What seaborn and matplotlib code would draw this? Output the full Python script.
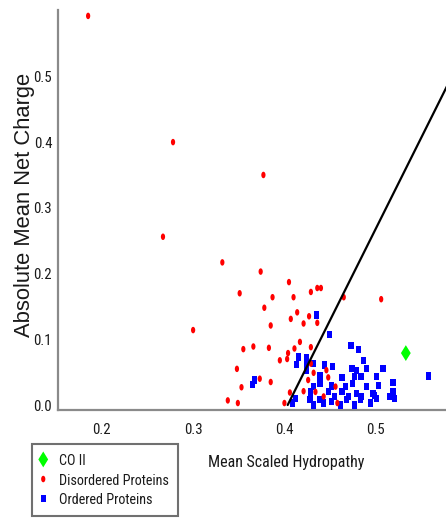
import numpy as np
import pandas as pd
import matplotlib
matplotlib.use("Agg")
import matplotlib.pyplot as plt
import seaborn as sns
from matplotlib import font_manager as fm
from matplotlib.font_manager import FontProperties
from matplotlib.markers import MarkerStyle
from matplotlib.ticker import MultipleLocator

# ---------------- data ----------------
disordered_x = [0.185, 0.278, 0.267, 0.300, 0.377, 0.332, 0.374, 0.405, 0.351, 0.387,
                0.410, 0.429, 0.436, 0.440, 0.465, 0.506, 0.378, 0.414, 0.407, 0.427,
                0.421, 0.436, 0.385, 0.417, 0.366, 0.355, 0.383, 0.411, 0.429, 0.404,
                0.403, 0.395, 0.348, 0.373, 0.385, 0.353, 0.338, 0.349, 0.400, 0.406,
                0.421, 0.434, 0.429, 0.432, 0.426, 0.446, 0.448, 0.456, 0.443, 0.458]
disordered_y = [0.592, 0.400, 0.256, 0.114, 0.350, 0.217, 0.203, 0.187, 0.170, 0.164,
                0.164, 0.172, 0.178, 0.178, 0.164, 0.161, 0.148, 0.141, 0.131, 0.135,
                0.124, 0.125, 0.121, 0.096, 0.089, 0.085, 0.087, 0.086, 0.088, 0.079,
                0.070, 0.068, 0.055, 0.040, 0.035, 0.027, 0.007, 0.003, 0.003, 0.019,
                0.021, 0.020, 0.063, 0.049, 0.038, 0.053, 0.042, 0.028, 0.013, 0.003]

ordered_x = [0.435, 0.449, 0.473, 0.481, 0.415, 0.424, 0.413, 0.424, 0.432, 0.444,
             0.453, 0.474, 0.479, 0.487, 0.490, 0.508, 0.558, 0.367, 0.365, 0.424,
             0.439, 0.463, 0.477, 0.484, 0.501, 0.439, 0.432, 0.452, 0.467, 0.475,
             0.490, 0.503, 0.519, 0.519, 0.429, 0.448, 0.463, 0.479, 0.497, 0.515,
             0.429, 0.455, 0.470, 0.484, 0.499, 0.428, 0.439, 0.452, 0.468, 0.483,
             0.501, 0.521, 0.432, 0.443, 0.461, 0.477, 0.494, 0.409, 0.412]
ordered_y = [0.137, 0.107, 0.091, 0.084, 0.073, 0.072, 0.062, 0.063, 0.063, 0.061,
             0.058, 0.056, 0.053, 0.068, 0.056, 0.055, 0.044, 0.038, 0.031, 0.053,
             0.044, 0.042, 0.043, 0.043, 0.043, 0.033, 0.028, 0.029, 0.028, 0.033,
             0.028, 0.030, 0.034, 0.020, 0.020, 0.020, 0.020, 0.018, 0.018, 0.013,
             0.013, 0.013, 0.013, 0.013, 0.015, 0.008, 0.008, 0.005, 0.008, 0.008,
             0.010, 0.010, 0.000, 0.003, 0.000, 0.000, 0.003, 0.003, 0.010]

coii_x = [0.533]
coii_y = [0.079]

# boundary line: charge = slope * hydropathy + intercept
boundary_slope = 2.78
boundary_intercept = -1.122

x_ticks = [0.2, 0.3, 0.4, 0.5]
x_ticklabels = ["0.2", "0.3", "0.4", "0.5"]
y_ticks = [0.0, 0.1, 0.2, 0.3, 0.4, 0.5]
y_ticklabels = ["0.0", "0.1", "0.2", "0.3", "0.4", "0.5"]

x_title = "Mean Scaled Hydropathy"
y_title = "Absolute Mean Net Charge"
legend_labels = ["CO II", "Disordered Proteins", "Ordered Proteins"]

# ---------------- style ----------------
sns.set_style("white")
names = {f.name for f in fm.fontManager.ttflist}


def pick_narrow():
    pref = ["Liberation Sans Narrow", "Arial Narrow", "Roboto Condensed",
            "Open Sans Condensed", "Noto Sans Condensed", "DejaVu Sans Condensed"]
    for p in pref:
        if p in names:
            return FontProperties(family=p)
    for f in fm.fontManager.ttflist:
        st = f.stretch
        cond = st in ("condensed", "semi-condensed", "extra-condensed") or \
            (isinstance(st, int) and st < 500)
        if cond and f.style == "normal" and f.weight in (400, "normal", "regular", "book"):
            return FontProperties(family=f.name, stretch=st)
    return FontProperties(family="Liberation Sans")


FP_NARROW = pick_narrow()
FP_REG = FontProperties(family="Liberation Sans")
plt.rcParams["font.family"] = [FP_NARROW.get_family()[0], "DejaVu Sans"]

GREY = "#8a8a8a"
TXT = "#1a1a1a"

fig = plt.figure(figsize=(4.46, 5.20), dpi=100)
renderer = fig.canvas.get_renderer()


def fp_sized(base_fp, s, target_px, rotation=0):
    fp = base_fp.copy()
    fp.set_size(10)
    t = fig.text(0, 0, s, fontproperties=fp, rotation=rotation)
    bb = t.get_window_extent(renderer)
    t.remove()
    w = bb.height if rotation else bb.width
    fp.set_size(10 * target_px / w)
    return fp


fp_tick = fp_sized(FP_NARROW, "0.5", 18.5)
fp_xlab = fp_sized(FP_NARROW, x_title, 157)
fp_ylab = fp_sized(FP_REG, y_title, 265, rotation=90)
fp_leg = fp_sized(FP_NARROW, "Disordered Proteins", 110)

ax = fig.add_axes([58 / 446, 110 / 520, 388 / 446, 400 / 520])

t = np.linspace(0, 2 * np.pi, 41)
ellipse = MarkerStyle(np.column_stack([0.65 * np.cos(t), np.sin(t)]))
rect = MarkerStyle(np.array([(-0.72, -1), (0.72, -1), (0.72, 1), (-0.72, 1), (-0.72, -1)]))
diamond = MarkerStyle(np.array([(0, -1), (0.62, 0), (0, 1), (-0.62, 0), (0, -1)]))

ordered_df = pd.DataFrame({"h": ordered_x, "c": ordered_y})
disordered_df = pd.DataFrame({"h": disordered_x, "c": disordered_y})
coii_df = pd.DataFrame({"h": coii_x, "c": coii_y})

sns.scatterplot(data=ordered_df, x="h", y="c", ax=ax, color="#0000ff", marker=rect,
                s=27, linewidth=0, edgecolor="none", label=legend_labels[2], zorder=3)
sns.scatterplot(data=disordered_df, x="h", y="c", ax=ax, color="#ff0000", marker=ellipse,
                s=22, linewidth=0, edgecolor="none", label=legend_labels[1], zorder=3)

h0 = -boundary_intercept / boundary_slope
line_df = pd.DataFrame({"h": [h0, 0.62]})
line_df["c"] = boundary_slope * line_df["h"] + boundary_intercept
sns.lineplot(data=line_df, x="h", y="c", ax=ax, color="black", linewidth=1.6, zorder=4)

sns.scatterplot(data=coii_df, x="h", y="c", ax=ax, color="#00ff00", marker=diamond,
                s=130, linewidth=0, edgecolor="none", label=legend_labels[0], zorder=5)

ax.set_xlim(0.152, 0.577)
ax.set_ylim(-0.0076, 0.601)

for side in ["top", "right"]:
    ax.spines[side].set_visible(False)
for side in ["left", "bottom"]:
    ax.spines[side].set_color(GREY)
    ax.spines[side].set_linewidth(1.6)

ax.set_xticks(x_ticks)
ax.set_xticklabels(x_ticklabels, fontproperties=fp_tick, color=TXT)
ax.set_yticks(y_ticks)
ax.set_yticklabels(y_ticklabels, fontproperties=fp_tick, color=TXT)
ax.xaxis.set_minor_locator(MultipleLocator(0.05))
ax.yaxis.set_minor_locator(MultipleLocator(0.05))
ax.tick_params(which="both", direction="out", color=GREY, width=1.2)
ax.tick_params(axis="x", which="major", length=4.5, pad=5)
ax.tick_params(axis="x", which="minor", length=3)
ax.tick_params(axis="y", which="major", length=3, pad=1.2)
ax.tick_params(axis="y", which="minor", length=2.5)

ax.set_xlabel(x_title, fontproperties=fp_xlab, color=TXT, va="center")
ax.xaxis.set_label_coords(0.589, -0.1325)
ax.set_ylabel(y_title, fontproperties=fp_ylab, color=TXT, va="center")
ax.yaxis.set_label_coords(-0.087, 0.5125)

handles, labels = ax.get_legend_handles_labels()
if ax.get_legend() is not None:
    ax.get_legend().remove()
hl = dict(zip(labels, handles))
leg = fig.legend([hl[k] for k in legend_labels], legend_labels, loc="upper left",
                 bbox_to_anchor=(32 / 446, 1 - 444 / 520), bbox_transform=fig.transFigure,
                 frameon=True, fancybox=False, edgecolor="#707070", framealpha=1,
                 borderpad=0.62, handlelength=0.35, handleheight=1.28, handletextpad=0.95,
                 labelspacing=0.3, borderaxespad=0, prop=fp_leg, scatterpoints=1)
leg.get_frame().set_linewidth(1.5)
for txt in leg.get_texts():
    txt.set_color(TXT)

fig.savefig("out.png", dpi=100)
